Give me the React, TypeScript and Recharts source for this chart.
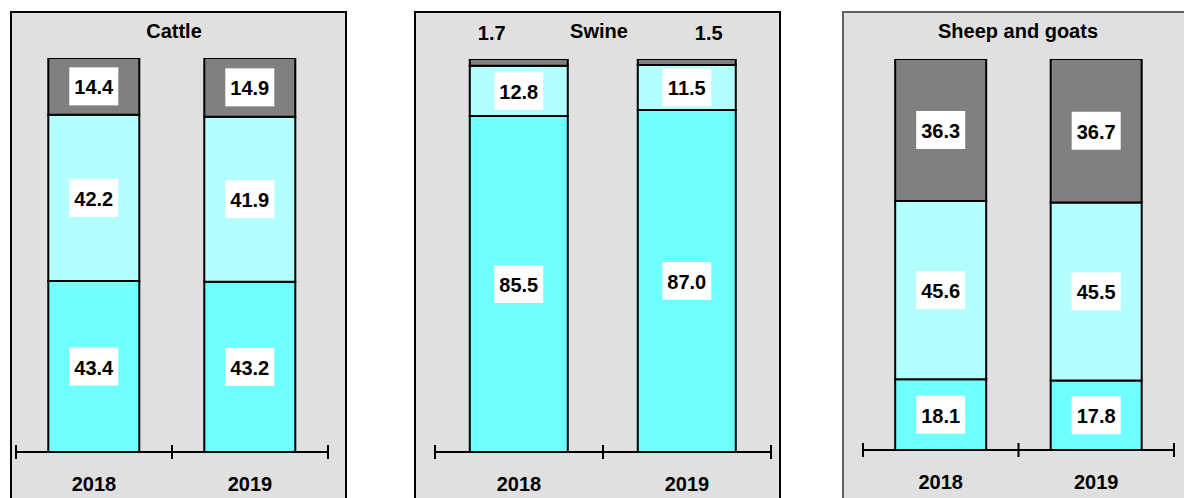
import React from 'react';
import { BarChart, Bar, XAxis, YAxis, LabelList } from 'recharts';

const years = ['2018', '2019'];

const cattleLower = [43.4, 43.2];
const cattleMiddle = [42.2, 41.9];
const cattleUpper = [14.4, 14.9];

const swineLower = [85.5, 87.0];
const swineMiddle = [12.8, 11.5];
const swineUpper = [1.7, 1.5];

const sheepLower = [18.1, 17.8];
const sheepMiddle = [45.6, 45.5];
const sheepUpper = [36.3, 36.7];

const FONT = '"Liberation Sans", Arial, sans-serif';
const LOWER_COLOR = '#6fffff';
const MIDDLE_COLOR = '#b3ffff';
const UPPER_COLOR = '#808080';
const PANEL_BG = '#e0e0e0';

const CHART_TOP = 11;
const CHART_HEIGHT = 487;

const buildRows = (lower: number[], middle: number[], upper: number[]) =>
  years.map((year, i) => ({ year, lower: lower[i], middle: middle[i], upper: upper[i] }));

const panels = [
  {
    title: 'Cattle',
    titleX: 174,
    left: 10,
    width: 337,
    border: '#000',
    margin: { top: 47, right: 19, bottom: 6, left: 6 },
    rows: buildRows(cattleLower, cattleMiddle, cattleUpper),
    upperOutside: false,
  },
  {
    title: 'Swine',
    titleX: 599,
    left: 414,
    width: 367,
    border: '#000',
    margin: { top: 48, right: 10, bottom: 6, left: 21 },
    rows: buildRows(swineLower, swineMiddle, swineUpper),
    upperOutside: true,
  },
  {
    title: 'Sheep and goats',
    titleX: 1018,
    left: 842,
    width: 362,
    border: '#606060',
    margin: { top: 48, right: 30, bottom: 8, left: 21 },
    rows: buildRows(sheepLower, sheepMiddle, sheepUpper),
    upperOutside: false,
  },
];

const BoxLabel = (props: any) => {
  const { x, y, width, height, value } = props;
  const cx = Number(x) + Number(width) / 2;
  const cy = Number(y) + Number(height) / 2;
  return (
    <g>
      <rect x={cx - 24.5} y={cy - 19} width={49} height={38} fill="#fff" />
      <text
        x={cx}
        y={cy + 1}
        textAnchor="middle"
        dominantBaseline="central"
        fontFamily={FONT}
        fontWeight="bold"
        fontSize={20}
        fill="#000"
      >
        {Number(value).toFixed(1)}
      </text>
    </g>
  );
};

// small slivers get their number written above the panel instead of inside the bar
const OutsideLabel = (props: any) => {
  const { x, y, width, value, index } = props;
  const cx = Number(x) + Number(width) / 2 + (index === 0 ? -27 : 22);
  return (
    <text
      x={cx}
      y={Number(y) - 26}
      textAnchor="middle"
      dominantBaseline="central"
      fontFamily={FONT}
      fontWeight="bold"
      fontSize={20}
      fill="#000"
    >
      {Number(value).toFixed(1)}
    </text>
  );
};

const makeTick = (halfBand: number, count: number) => (props: any) => {
  const { x, y, payload, index } = props;
  const half = payload && payload.offset ? payload.offset : halfBand;
  return (
    <g>
      <line x1={x - half} x2={x - half} y1={y - 7} y2={y + 7} stroke="#000" strokeWidth={2} />
      {index === count - 1 && (
        <line x1={x + half} x2={x + half} y1={y - 7} y2={y + 7} stroke="#000" strokeWidth={2} />
      )}
      <text
        x={x}
        y={y + 32}
        textAnchor="middle"
        dominantBaseline="central"
        fontFamily={FONT}
        fontWeight="bold"
        fontSize={20}
        fill="#000"
      >
        {payload.value}
      </text>
    </g>
  );
};

const App = () => {
  return (
    <div style={{ position: 'fixed', left: 0, top: 0, width: 1184, height: 498, background: '#fff', overflow: 'hidden' }}>
      {panels.map((p) => (
        <div
          key={p.title + '-panel'}
          style={{
            position: 'absolute',
            left: p.left,
            top: CHART_TOP,
            width: p.width,
            height: 500,
            boxSizing: 'border-box',
            border: `2px solid ${p.border}`,
            background: PANEL_BG,
          }}
        />
      ))}
      {panels.map((p) => (
        <div
          key={p.title + '-title'}
          style={{
            position: 'absolute',
            left: p.titleX - 150,
            width: 300,
            top: 19,
            lineHeight: '24px',
            textAlign: 'center',
            fontFamily: FONT,
            fontWeight: 'bold',
            fontSize: 20,
            color: '#000',
          }}
        >
          {p.title}
        </div>
      ))}
      {panels.map((p) => {
        const plotWidth = p.width - p.margin.left - p.margin.right;
        const halfBand = plotWidth / years.length / 2;
        return (
          <div key={p.title} style={{ position: 'absolute', left: p.left, top: CHART_TOP }}>
            <BarChart
              width={p.width}
              height={CHART_HEIGHT}
              data={p.rows}
              margin={p.margin}
              barCategoryGap="20.7%"
            >
              <XAxis
                dataKey="year"
                height={40}
                tickSize={0}
                tickMargin={0}
                axisLine={{ stroke: '#000', strokeWidth: 2 }}
                tickLine={false}
                tick={makeTick(halfBand, years.length)}
                interval={0}
              />
              <YAxis hide domain={[0, 100]} type="number" allowDataOverflow />
              <Bar dataKey="lower" stackId="s" fill={LOWER_COLOR} stroke="#000" strokeWidth={2} isAnimationActive={false}>
                <LabelList dataKey="lower" content={BoxLabel} />
              </Bar>
              <Bar dataKey="middle" stackId="s" fill={MIDDLE_COLOR} stroke="#000" strokeWidth={2} isAnimationActive={false}>
                <LabelList dataKey="middle" content={BoxLabel} />
              </Bar>
              <Bar dataKey="upper" stackId="s" fill={UPPER_COLOR} stroke="#000" strokeWidth={2} isAnimationActive={false}>
                <LabelList dataKey="upper" content={p.upperOutside ? OutsideLabel : BoxLabel} />
              </Bar>
            </BarChart>
          </div>
        );
      })}
    </div>
  );
};

export default App;
